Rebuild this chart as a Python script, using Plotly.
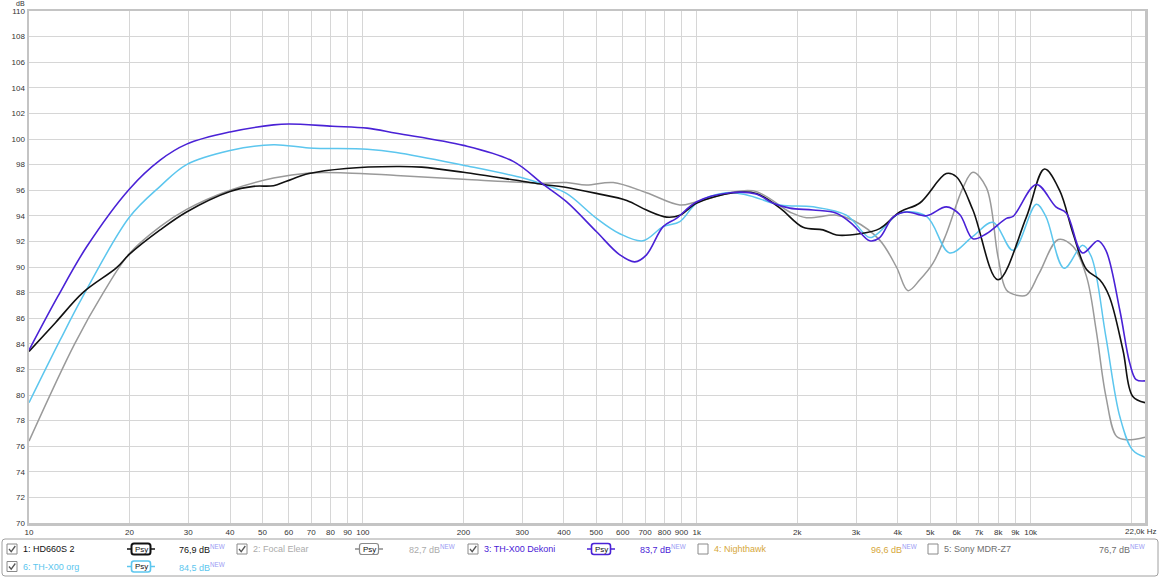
import plotly.graph_objects as go
import math

# ---------------- data ----------------
hd660_f = [10, 12, 14.5, 18.3, 20, 24.7, 29.65, 40, 47, 54, 59, 69, 89, 126, 150, 200, 300, 347, 400, 500,
           617, 707, 812, 890, 1000, 1288, 1506, 1776, 2081, 2388, 2620, 3076, 3530, 4055, 4656, 5590, 5990,
           6714, 7983, 9708, 11000, 12200, 13400, 14700, 16100, 17200, 18900, 20200, 22000]
hd660_db = [83.4, 85.65, 88.0, 89.95, 91.0, 92.9, 94.3, 95.9, 96.3, 96.35, 96.7, 97.3, 97.7, 97.85, 97.8, 97.4, 96.7, 96.45, 96.25, 95.75,
            95.2, 94.45, 93.9, 94.05, 95.0, 95.8, 95.75, 94.6, 93.1, 92.9, 92.5, 92.6, 93.0, 94.3, 95.0, 97.3, 97.05,
            94.45, 89.0, 93.9, 97.65, 96.0, 92.6, 89.8, 89.0, 87.7, 83.5, 79.9, 79.4]

dekoni_f = [10, 12.2, 14.9, 20, 24.7, 29.65, 40, 54, 60, 81, 103, 126, 200, 282, 347, 407, 501, 588, 652, 707,
            793, 869, 1000, 1260, 1506, 1688, 1898, 2229, 2620, 2938, 3296, 3530, 3870, 4246, 4874, 5590, 6130,
            6714, 7369, 8459, 8854, 10400, 11900, 12800, 14300, 15900, 16800, 18500, 19800, 20700, 22000]
dekoni_db = [83.5, 87.7, 91.6, 96.1, 98.35, 99.6, 100.55, 101.1, 101.17, 101.0, 100.85, 100.45, 99.5, 98.25, 96.45, 95.1, 92.75, 90.95, 90.4, 90.95,
             93.15, 93.8, 95.1, 95.8, 95.7, 95.0, 94.6, 94.45, 94.2, 93.3, 92.05, 92.3, 93.9, 94.3, 94.0, 94.7, 94.1,
             92.2, 92.6, 93.8, 93.95, 96.45, 94.7, 94.2, 91.1, 92.05, 91.3, 86.6, 82.5, 81.2, 81.1]

org_f = [10, 12.4, 14.5, 20, 24.7, 29.65, 40, 54, 69, 103, 126, 200, 302, 347, 407, 501, 588, 690, 793, 890,
         1000, 1223, 1403, 1776, 2229, 2806, 3296, 3530, 4055, 4874, 5720, 6714, 7710, 8854, 10400, 11100,
         12600, 14300, 15200, 16800, 18500, 20200, 22000]
org_db = [79.4, 84.3, 87.7, 93.9, 96.3, 98.0, 99.1, 99.55, 99.3, 99.2, 98.95, 97.95, 96.95, 96.45, 95.75, 93.8, 92.6, 92.05, 93.15, 93.55,
          95.0, 95.8, 95.65, 94.85, 94.7, 94.05, 92.3, 92.75, 94.2, 93.95, 91.1, 92.4, 93.5, 91.3, 94.9, 93.95,
          89.9, 91.7, 90.8, 84.55, 78.3, 75.7, 75.15]

elear_f = [10, 13.7, 16.7, 20, 24.7, 29.65, 40, 54, 69, 89, 126, 200, 347, 407, 467, 562, 707, 890, 1000, 1475,
           1898, 2130, 2620, 2938, 3530, 3962, 4293, 4656, 5100, 5590, 6270, 6714, 7369, 7983, 8459, 9060, 9708,
           10600, 12100, 13400, 14700, 15700, 16800, 18100, 19500, 22000]
elear_db = [76.4, 84.0, 88.0, 91.05, 93.15, 94.5, 96.0, 96.95, 97.35, 97.35, 97.15, 96.85, 96.55, 96.6, 96.4, 96.6, 95.8, 94.85, 95.1, 95.95,
            94.3, 93.85, 94.05, 93.65, 92.1, 90.0, 88.15, 89.0, 90.3, 92.6, 96.2, 97.4, 96.2, 90.8, 88.2, 87.8, 87.8,
            89.5, 92.15, 91.6, 89.25, 85.1, 79.9, 76.75, 76.5, 76.7]

x_tick_vals = [10, 20, 30, 40, 50, 60, 70, 80, 90, 100, 200, 300, 400, 500, 600, 700, 800, 900,
               1000, 2000, 3000, 4000, 5000, 6000, 7000, 8000, 9000, 10000, 20000]
x_tick_text = ["10", "20", "30", "40", "50", "60", "70", "80", "90", "100", "200", "300", "400", "500",
               "600", "700", "800", "900", "1k", "2k", "3k", "4k", "5k", "6k", "7k", "8k", "9k", "10k", ""]

legend_names = ["1: HD660S 2", "2: Focal Elear", "3: TH-X00 Dekoni", "4: Nighthawk", "5: Sony MDR-Z7", "6: TH-X00 org"]
legend_levels = ["76,9 dB", "82,7 dB", "83,7 dB", "96,6 dB", "76,7 dB", "84,5 dB"]

# ---------------- style ----------------
C_BLACK = "#111111"
C_GRAY = "#9a9a9a"
C_PURPLE = "#4a22d6"
C_BLUE = "#5cc6ee"
C_GOLD = "#d6a73a"
C_SONY = "#6e6e6e"
C_NEW = "#9a9cf4"
FONT = "Liberation Sans, Arial, sans-serif"

W, H = 1160, 578
L, R, T, B = 29, 1145, 11, 523

fig = go.Figure()
for f, d, c, w in [(elear_f, elear_db, C_GRAY, 1.5), (org_f, org_db, C_BLUE, 1.5),
                   (hd660_f, hd660_db, C_BLACK, 1.6), (dekoni_f, dekoni_db, C_PURPLE, 1.6)]:
    fig.add_trace(go.Scatter(x=f, y=d, mode="lines", line=dict(color=c, width=w, shape="spline", smoothing=1.0),
                             showlegend=False, hoverinfo="skip"))

fig.update_layout(
    width=W, height=H, margin=dict(l=L, r=W - R, t=T, b=H - B),
    paper_bgcolor="white", plot_bgcolor="white", showlegend=False,
    font=dict(family=FONT, size=8, color="#333333"),
)
fig.update_xaxes(type="log", range=[1, math.log10(22000)], tickmode="array", tickvals=x_tick_vals,
                 ticktext=x_tick_text, showgrid=True, gridcolor="#d6d6d6", gridwidth=1,
                 showline=True, linecolor="#c4c4c4", linewidth=2.5, mirror=True, ticks="",
                 zeroline=False, automargin=False, tickfont=dict(size=8, color="#333333"))
fig.update_yaxes(range=[70, 110], dtick=2, tick0=70, showgrid=True, gridcolor="#d6d6d6", gridwidth=1,
                 showline=True, linecolor="#c4c4c4", linewidth=2.5, mirror=True, ticks="",
                 zeroline=False, automargin=False, tickfont=dict(size=8, color="#333333"))


def px(x):
    return (x - L) / (R - L)


def py(y):
    return (B - y) / (B - T)


shapes = []
ann = []

# axis extra labels
ann.append(dict(x=px(20), y=py(3), xref="paper", yref="paper", text="dB", showarrow=False,
                font=dict(size=7, color="#333333", family=FONT), xanchor="center", yanchor="middle"))
ann.append(dict(x=px(1159), y=py(531), xref="paper", yref="paper", text="22,0k Hz", showarrow=False,
                font=dict(size=8, color="#333333", family=FONT), xanchor="right", yanchor="middle"))


def rrect(x0, y0, x1, y1, r):
    X0, X1 = px(x0), px(x1)
    Y0, Y1 = py(y0), py(y1)
    rx = r / (R - L)
    ry = r / (B - T)
    return (f"M {X0+rx},{Y0} L {X1-rx},{Y0} Q {X1},{Y0} {X1},{Y0-ry} L {X1},{Y1+ry} Q {X1},{Y1} {X1-rx},{Y1} "
            f"L {X0+rx},{Y1} Q {X0},{Y1} {X0},{Y1+ry} L {X0},{Y0-ry} Q {X0},{Y0} {X0+rx},{Y0} Z")


# legend frame
shapes.append(dict(type="path", xref="paper", yref="paper", path=rrect(2, 539, 1158, 576, 3),
                   line=dict(color="#a0a0a0", width=1), fillcolor="rgba(0,0,0,0)"))


def checkbox(x, yc, checked):
    shapes.append(dict(type="rect", xref="paper", yref="paper", x0=px(x), x1=px(x + 10), y0=py(yc - 5), y1=py(yc + 5),
                       line=dict(color="#8a8a8a", width=1), fillcolor="white"))
    if checked:
        shapes.append(dict(type="path", xref="paper", yref="paper",
                           path=f"M {px(x+2)},{py(yc)} L {px(x+4.2)},{py(yc+2.6)} L {px(x+8.3)},{py(yc-3)}",
                           line=dict(color="#555555", width=1.3)))


def psy(xc, yc, color, width):
    shapes.append(dict(type="line", xref="paper", yref="paper", x0=px(xc - 14), x1=px(xc - 9.5), y0=py(yc), y1=py(yc),
                       line=dict(color=color, width=1.5)))
    shapes.append(dict(type="line", xref="paper", yref="paper", x0=px(xc + 9.5), x1=px(xc + 14), y0=py(yc), y1=py(yc),
                       line=dict(color=color, width=1.5)))
    shapes.append(dict(type="path", xref="paper", yref="paper", path=rrect(xc - 9.5, yc - 5.5, xc + 9.5, yc + 5.5, 2.5),
                       line=dict(color=color, width=width), fillcolor="white"))
    ann.append(dict(x=px(xc), y=py(yc), xref="paper", yref="paper", text="Psy", showarrow=False,
                    font=dict(size=8, color="#111111", family=FONT), xanchor="center", yanchor="middle"))


def label(x, yc, text, color, size=9):
    ann.append(dict(x=px(x), y=py(yc), xref="paper", yref="paper", text=text, showarrow=False,
                    font=dict(size=size, color=color, family=FONT), xanchor="left", yanchor="middle"))


def level(x, yc, text, color):
    label(x, yc, f"{text}<span style='color:{C_NEW}'><sup>NEW</sup></span>", color)


r1, r2 = 549, 566.5
# item 1
checkbox(7, r1, True)
label(21, r1, legend_names[0], "#111111")
psy(141, r1, C_BLACK, 2)
level(177, r1, legend_levels[0], "#111111")
# item 2
checkbox(237, r1, True)
label(251, r1, legend_names[1], "#ababab")
psy(369, r1, "#8a8a8a", 1.2)
level(407, r1, legend_levels[1], "#ababab")
# item 3
checkbox(468, r1, True)
label(482, r1, legend_names[2], C_PURPLE)
psy(601, r1, C_PURPLE, 1.6)
level(638, r1, legend_levels[2], C_PURPLE)
# item 4
checkbox(698, r1, False)
label(712, r1, legend_names[3], C_GOLD)
level(869, r1, legend_levels[3], C_GOLD)
# item 5
checkbox(928, r1, False)
label(942, r1, legend_names[4], C_SONY)
level(1097, r1, legend_levels[4], C_SONY)
# item 6
checkbox(7, r2, True)
label(21, r2, legend_names[5], C_BLUE)
psy(141, r2, C_BLUE, 1.6)
level(177, r2, legend_levels[5], C_BLUE)

fig.update_layout(shapes=shapes, annotations=ann)
fig.write_html("out.html", config={"displayModeBar": False, "staticPlot": True},
               post_script="document.body.style.margin='0';document.body.style.padding='0';")
